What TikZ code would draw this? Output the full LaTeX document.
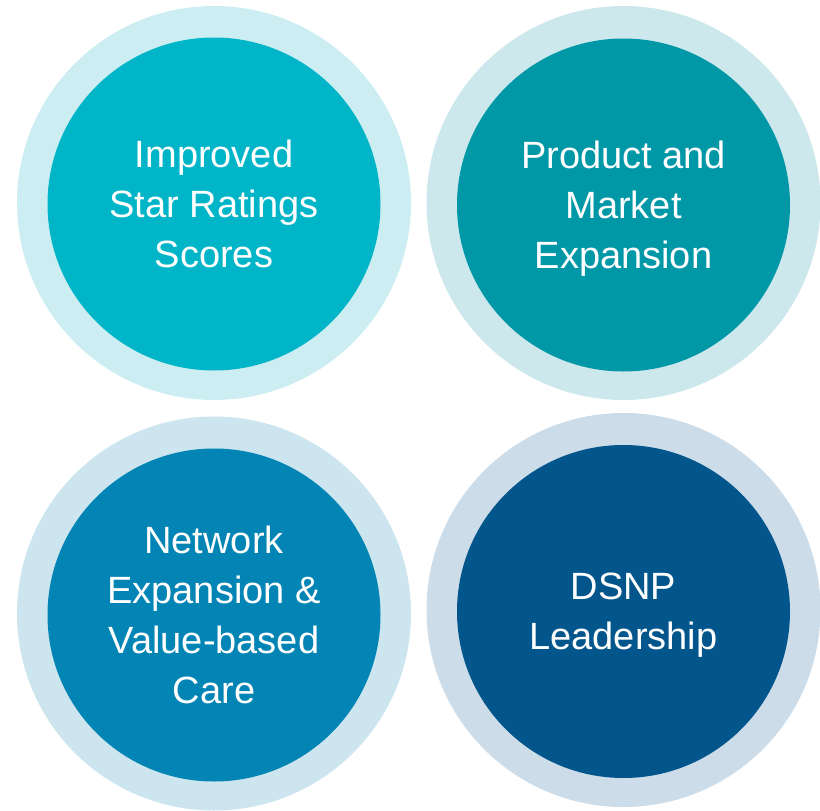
\documentclass[tikz,border=0pt]{standalone}
\usepackage{fontspec}
\setmainfont{Liberation Sans}
\definecolor{tealA}{RGB}{0,181,199}
\definecolor{tealAring}{RGB}{204,238,242}
\definecolor{tealB}{RGB}{0,151,167}
\definecolor{tealBring}{RGB}{204,232,236}
\definecolor{blueC}{RGB}{2,132,181}
\definecolor{blueCring}{RGB}{204,229,238}
\definecolor{blueD}{RGB}{2,86,140}
\definecolor{blueDring}{RGB}{204,220,232}
\tikzset{
  ring/.style={circle, inner sep=0pt, minimum size=394pt, draw=none},
  disc/.style={circle, inner sep=0pt, minimum size=333pt, draw=none,
    text=white, align=center, text depth=0pt,
    font=\fontsize{38pt}{50pt}\selectfont},
}
\begin{document}
\begin{tikzpicture}[x=1pt,y=-1pt]
\useasboundingbox (0,0) rectangle (820,811);
% outer rings
\node[ring, fill=tealAring] (r1) at (214,203) {};
\node[ring, fill=tealBring] (r2) at (623.5,203) {};
\node[ring, fill=blueCring] (r3) at (214,613.5) {};
\node[ring, fill=blueDring] (r4) at (623.5,610) {};
% inner discs with labels
\node[disc, fill=tealA] (d1) at (214,204) {Improved\\Star Ratings\\Scores};
\node[disc, fill=tealB] (d2) at (623.5,205) {Product and\\Market\\Expansion};
\node[disc, fill=blueC] (d3) at (214,615) {Network\\Expansion \&\\Value-based\\Care};
\node[disc, fill=blueD] (d4) at (623.5,611.5) {DSNP\\Leadership};
\end{tikzpicture}
\end{document}
